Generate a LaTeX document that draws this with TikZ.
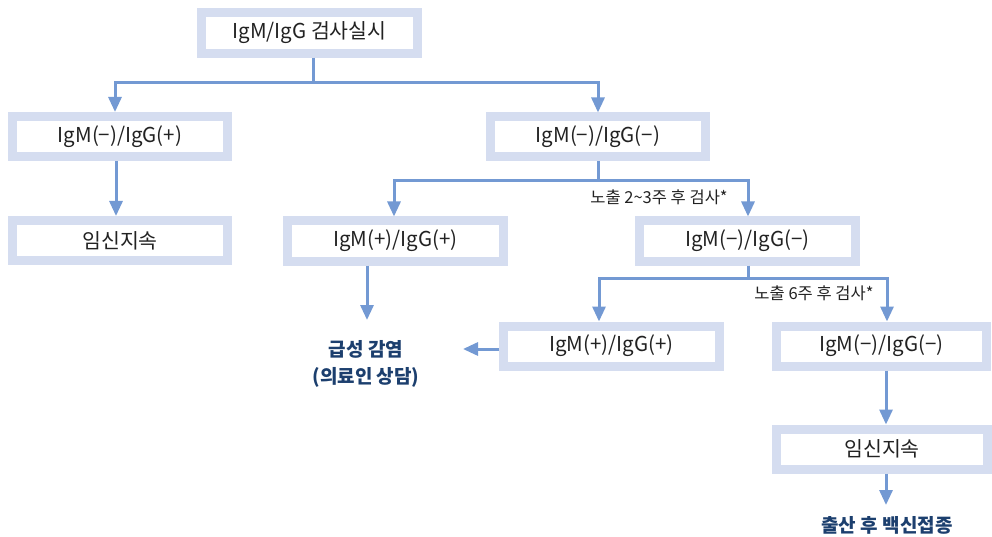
\documentclass[tikz,border=0pt]{standalone}
\usepackage{fontspec}
\setmainfont{Noto Sans CJK KR}
\usetikzlibrary{arrows.meta}
\definecolor{boxfill}{HTML}{D5DDF0}
\definecolor{linec}{HTML}{7399D3}
\definecolor{navy}{HTML}{1C3F6E}
\definecolor{txt}{HTML}{222222}
\begin{document}
\begin{tikzpicture}[x=1pt,y=-1pt,
  box/.style={draw=boxfill, line width=9pt, fill=white, minimum width=#1,
    minimum height=40pt, inner sep=0pt, font=\fontsize{20.5}{24}\selectfont, text=txt},
  conn/.style={draw=linec, line width=3pt},
  arr/.style={conn, -{Triangle[length=15pt,width=13pt]}},
  res/.style={font=\fontsize{19}{27}\selectfont\bfseries, text=navy, align=center, inner sep=0pt},
  lbl/.style={font=\fontsize{16.5}{19}\selectfont, text=txt, inner sep=0pt}]
\useasboundingbox (0,0) rectangle (992,537);

% boxes
\node[box=216, minimum height=41pt] (top) at (309.5,33) {IgM/IgG 검사실시};
\node[box=215] (a1) at (120,136.5) {IgM(−)/IgG(+)};
\node[box=215] (a2) at (120,240.5) {임신지속};
\node[box=215] (b1) at (598,137) {IgM(−)/IgG(−)};
\node[box=216] (c1) at (395.5,241) {IgM(+)/IgG(+)};
\node[box=216] (c2) at (747.5,241) {IgM(−)/IgG(−)};
\node[box=216] (d1) at (611.5,346) {IgM(+)/IgG(+)};
\node[box=210] (d2) at (881.5,346) {IgM(−)/IgG(−)};
\node[box=211] (e1) at (882,449) {임신지속};

% results
\node[res] (r1) at (366,363.5) {급성 감염\\(의료인 상담)};
\node[res] (r2) at (887,525) {출산 후 백신접종};

% labels
\node[lbl] (l1) at (659,197) {노출 2\char`~3주 후 검사*};
\node[lbl] (l2) at (814,293) {노출 6주 후 검사*};

% coordinates
\coordinate (t1) at (313,83);
\coordinate (ja) at (115,83);
\coordinate (ka) at (116,0);
\coordinate (m1) at (598,181);
\coordinate (m2) at (394,181);
\coordinate (m3) at (748,181);
\coordinate (n1) at (748,278);
\coordinate (n2) at (599,278);
\coordinate (n3) at (887,278);
\coordinate (p1) at (367,0);
\coordinate (p2) at (367,320);
\coordinate (ge) at (463,349);
\coordinate (q1) at (886,0);
\coordinate (q2) at (886,505);

% connectors
\draw[conn] (top.south -| t1) -- (t1);
\draw[arr] (t1) -| (b1.north);
\draw[arr] (t1) -- (ja) -- (ja |- a1.north);
\draw[arr] (a1.south -| ka) -- (a2.north -| ka);

\draw[conn] (b1.south -| m1) -- (m1);
\draw[arr] (m1) -- (m2) -- (m2 |- c1.north);
\draw[arr] (m1) -- (m3) -- (m3 |- c2.north);

\draw[conn] (c2.south -| n1) -- (n1);
\draw[arr] (n1) -- (n2) -- (n2 |- d1.north);
\draw[arr] (n1) -- (n3) -- (n3 |- d2.north);

\draw[arr] (c1.south -| p1) -- (p2);
\draw[arr] (d1.west |- ge) -- (ge);

\draw[arr] (d2.south -| q1) -- (e1.north -| q1);
\draw[arr] (e1.south -| q1) -- (q2);
\end{tikzpicture}
\end{document}
